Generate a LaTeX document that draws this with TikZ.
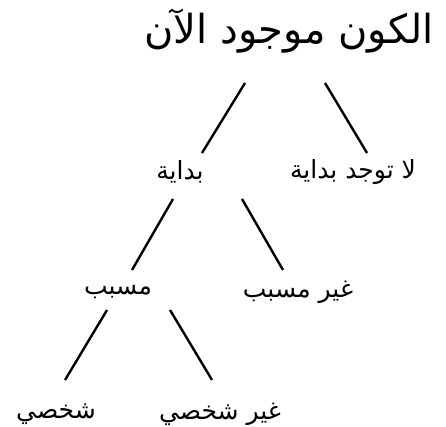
\documentclass[tikz,border=0pt]{standalone}
\usepackage{fontspec}
\newfontfamily\arabicfont[Script=Arabic]{DejaVu Sans}
\TeXXeTstate=1
\usetikzlibrary{calc, positioning}
\tikzset{
    textnode/.style  = {draw=none, fill=none, rectangle, inner sep = 0em, 
      node distance=0em, font=\arabicfont\fontsize{25}{30}\selectfont},
    titlenode/.style = {textnode, font=\arabicfont\fontsize{40}{48}\selectfont},
    branch/.style = {black, line width=2.4pt}
}
\newcommand{\rtl}[1]{\beginR #1\endR}

\begin{document}
\begin{tikzpicture}
    \useasboundingbox (0,0) rectangle (446pt,-427pt);
    \node [titlenode, name=universe] at (289pt,-31pt) {\rtl{الكون موجود الآن}};
    \node [textnode, name=begin, below of=universe, xshift=-109pt, yshift=-141pt] {\rtl{بداية}};
    \node [textnode, name=nobegin, below of=universe, xshift=64pt, yshift=-141pt] {\rtl{لا توجد بداية}};
    \node [textnode, name=caused, below of=begin, xshift=-62pt, yshift=-120pt] {\rtl{مسبب}};
    \node [textnode, name=uncaused, below of=begin, xshift=118pt, yshift=-120pt] {\rtl{غير مسبب}};
    \node [textnode, name=personal, below of=caused, xshift=-62pt, yshift=-122pt] {\rtl{شخصي}};
    \node [textnode, name=impersonal, below of=caused, xshift=102pt, yshift=-122pt] {\rtl{غير شخصي}};

    \draw [branch] ($(universe)+(-44pt,-52pt)$) -- ($(begin)+(22pt,19pt)$);
    \draw [branch] ($(universe)+(36pt,-52pt)$) -- ($(nobegin)+(14pt,19pt)$);
    \draw [branch] ($(begin)+(-7pt,-27pt)$) -- ($(caused)+(14pt,22pt)$);
    \draw [branch] ($(begin)+(62pt,-27pt)$) -- ($(uncaused)+(-15pt,22pt)$);
    \draw [branch] ($(caused)+(-11pt,-18pt)$) -- ($(personal)+(9pt,34pt)$);
    \draw [branch] ($(caused)+(52pt,-18pt)$) -- ($(impersonal)+(-8pt,34pt)$);
\end{tikzpicture}
\end{document}
